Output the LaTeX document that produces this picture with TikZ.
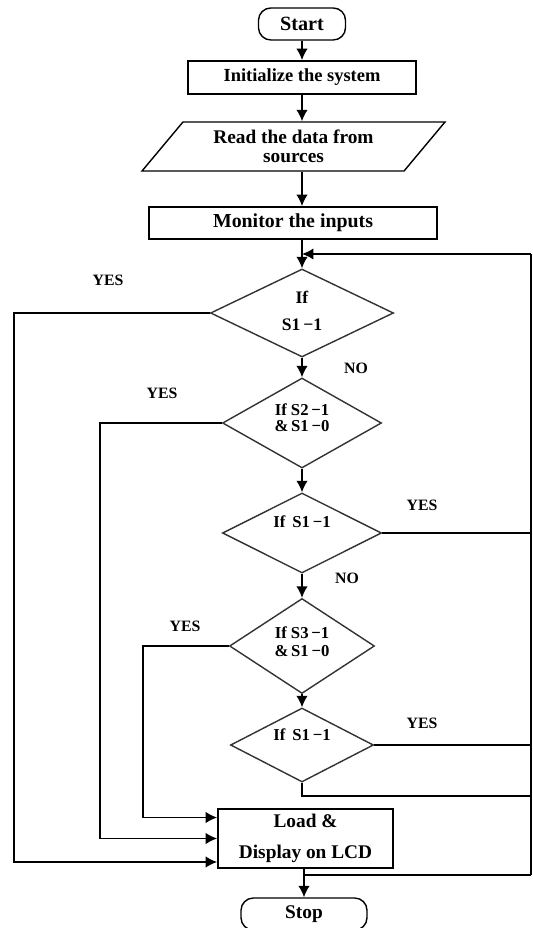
\documentclass[tikz,border=0pt]{standalone}
\usepackage{fontspec}
\setmainfont{Liberation Serif}
\usetikzlibrary{arrows.meta,shapes.geometric}

\begin{document}
\begin{tikzpicture}[x=0.02cm,y=-0.02cm,>={Latex[length=6.5pt,width=6.5pt]},line width=0.9pt,
  term/.style={draw,rounded corners=7pt,line width=0.8pt,inner sep=0pt,font=\bfseries\fontsize{11.5}{12}\selectfont},
  box/.style={draw,line width=1pt,inner sep=0pt,align=center},
  dec/.style={draw,diamond,inner sep=0pt,line width=0.8pt,draw=black!80},
  dectext/.style={align=center,inner sep=0pt,font=\bfseries\fontsize{10}{11}\selectfont},
  lbl/.style={inner sep=0pt,font=\bfseries\fontsize{9}{10}\selectfont}]

\useasboundingbox (0,0) rectangle (532,928);

\def\u{0.02cm}
\def\xs{302}
\def\xr{531}

% Start und Initialisierung
\node[term,minimum width=87*\u,minimum height=32*\u] (start) at (\xs,24) {Start};
\node[box,minimum width=228*\u,minimum height=33*\u,font=\bfseries\fontsize{10.5}{12}\selectfont] (init) at (\xs,77.5) {Initialize the system};

% Eingabe
\node[draw,trapezium,trapezium left angle=39,trapezium right angle=141,trapezium stretches body,
  minimum width=303*\u,minimum height=49*\u,inner sep=0pt,line width=0.8pt,align=center,
  font=\bfseries\fontsize{11}{11}\selectfont] (par) at (293.5,146.5) {Read the data from\\sources};

\node[box,minimum width=288*\u,minimum height=32*\u,font=\bfseries\fontsize{11.3}{12}\selectfont] (mon) at (293,223) {Monitor the inputs};

% Abfragen
\node[dec,minimum width=183*\u,minimum height=88*\u] (d1) at (\xs,313) {};
\node[dectext] (t1) at (\xs,311) {If\\[4pt]S1\,−1};

\node[dec,minimum width=159*\u,minimum height=90*\u] (d2) at (\xs,423) {};
\node[dectext,font=\bfseries\fontsize{9.5}{9}\selectfont] (t2) at (\xs,417.5) {If S2\,−1\\\&\,S1\,−0};

\node[dec,minimum width=159*\u,minimum height=80*\u] (d3) at (\xs,533) {};
\node[dectext,font=\bfseries\fontsize{9.5}{10}\selectfont] (t3) at (\xs,522) {If\, S1\,−1};

\node[dec,minimum width=145*\u,minimum height=95*\u] (d4) at (\xs,646) {};
\node[dectext,font=\bfseries\fontsize{9.5}{10}\selectfont] (t4) at (\xs,641.5) {If S3\,−1\\\&\,S1\,−0};

\node[dec,minimum width=143*\u,minimum height=74*\u] (d5) at (\xs,745) {};
\node[dectext,font=\bfseries\fontsize{9.5}{10}\selectfont] (t5) at (\xs,735) {If\, S1\,−1};

% Ausgabe und Stop
\node[box,minimum width=175*\u,minimum height=59*\u,font=\bfseries\fontsize{11}{12}\selectfont] (load) at (305.5,838.5) {Load \&\\[6pt]Display on LCD};
\node[term,minimum width=126*\u,minimum height=32*\u,font=\bfseries\fontsize{11}{12}\selectfont] (stop) at (304,914) {Stop};

% Beschriftungen
\node[lbl] (y1) at (108,280) {YES};
\node[lbl] (n1) at (356,368) {NO};
\node[lbl] (y2) at (162,393) {YES};
\node[lbl] (y3) at (422,505) {YES};
\node[lbl] (n3) at (347,578) {NO};
\node[lbl] (y4) at (185,626) {YES};
\node[lbl] (y5) at (422,723) {YES};

% Hauptpfad
\draw[->] (start) -- (init);
\draw[->] (init) -- (init.south |- par.north);
\draw[->] (par.south -| init.south) -- (mon.north -| init.south);
\draw[->] (mon.south -| d1.north) -- (d1.north);
\draw[->] (d1.south) -- (d2.north);
\draw[->] (d2.south) -- (d3.north);
\draw[->] (d3.south) -- (d4.north);
\draw[->] (d4.south) -- (d5.north);
\draw[->] (load.south -| stop.north) -- (stop.north);

% Rueckfuehrung rechts
\coordinate (back) at (\xr,254);
\coordinate (rb) at (\xr,875);
\coordinate (r5) at (\xr,796);
\draw[->] (back) -- (back -| d1.north);
\draw (back) -- (rb);
\draw (d3.east) -- (d3.east -| back);
\draw (d5.east) -- (d5.east -| back);
\draw (d5.south) |- (r5);
\draw (stop.north |- rb) -- (rb);

% YES-Zweige links
\coordinate (in1) at ([yshift=-0.47cm]load.west);
\coordinate (in4) at ([yshift=0.42cm]load.west);
\draw[->] (d1.west) -- ++(-196,0) |- (in1);
\draw[->] (d2.west) -- ++(-122,0) |- (load.west);
\draw[->] (d4.west) -- ++(-86,0) |- (in4);

\end{tikzpicture}
\end{document}
